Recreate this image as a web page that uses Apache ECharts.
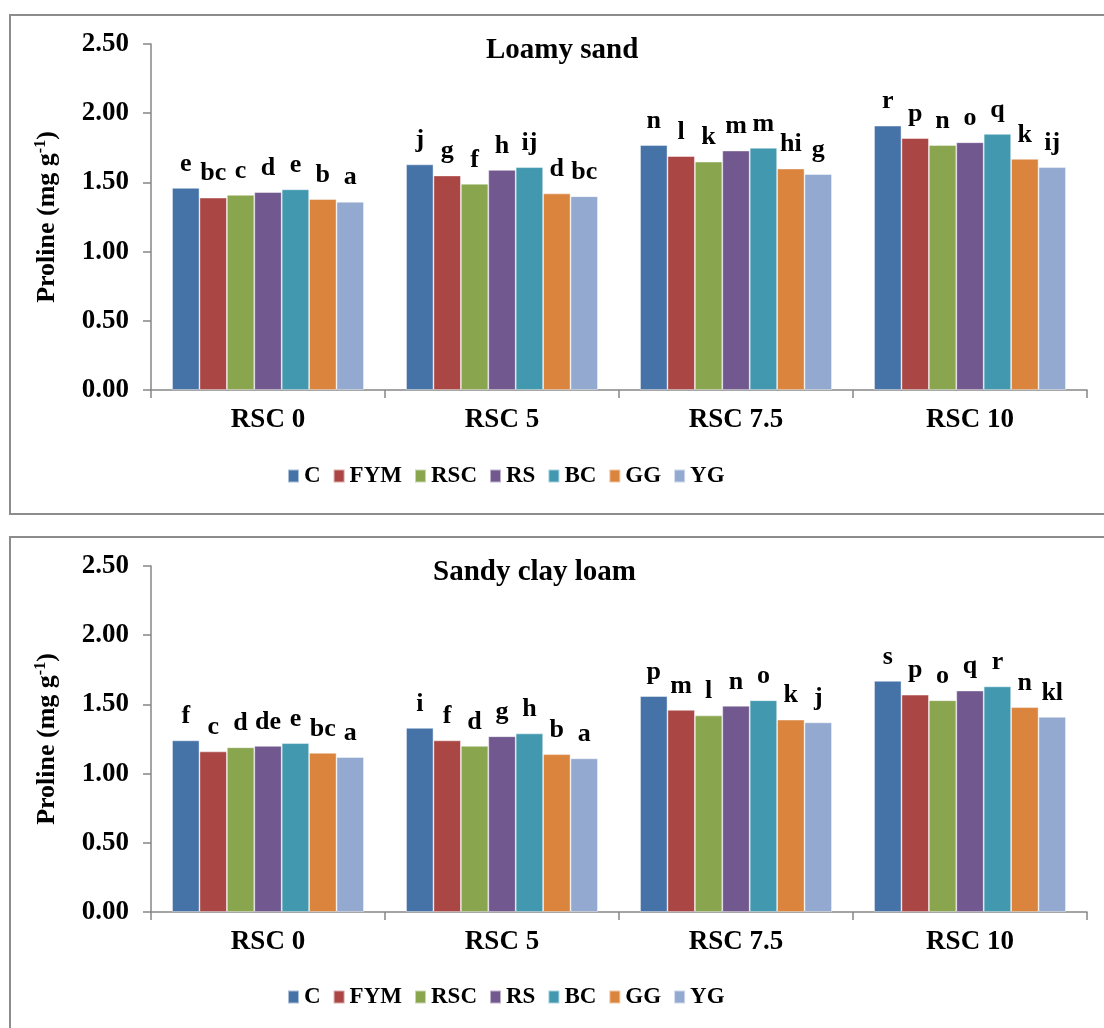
<!DOCTYPE html>
<html>
<head>
<meta charset="utf-8">
<script src="https://cdn.jsdelivr.net/npm/echarts@6/dist/echarts.min.js"></script>
<style>
  html, body { margin: 0; padding: 0; background: #fff; }
  #chart { width: 1104px; height: 1028px; }
</style>
</head>
<body>
<div id="chart"></div>
<script>
// ---------- DATA ----------
const categories = ['RSC 0', 'RSC 5', 'RSC 7.5', 'RSC 10'];
const treatments = ['C', 'FYM', 'RSC', 'RS', 'BC', 'GG', 'YG'];
const yTicks = [0, 0.5, 1.0, 1.5, 2.0, 2.5];

// Loamy sand (top panel)
const loamyC   = [1.46, 1.63, 1.77, 1.91];
const loamyFYM = [1.39, 1.55, 1.69, 1.82];
const loamyRSC = [1.41, 1.49, 1.65, 1.77];
const loamyRS  = [1.43, 1.59, 1.73, 1.79];
const loamyBC  = [1.45, 1.61, 1.75, 1.85];
const loamyGG  = [1.38, 1.42, 1.60, 1.67];
const loamyYG  = [1.36, 1.40, 1.56, 1.61];

const loamyLetC   = ['e', 'j', 'n', 'r'];
const loamyLetFYM = ['bc', 'g', 'l', 'p'];
const loamyLetRSC = ['c', 'f', 'k', 'n'];
const loamyLetRS  = ['d', 'h', 'm', 'o'];
const loamyLetBC  = ['e', 'ij', 'm', 'q'];
const loamyLetGG  = ['b', 'd', 'hi', 'k'];
const loamyLetYG  = ['a', 'bc', 'g', 'ij'];

// Sandy clay loam (bottom panel)
const sandyC   = [1.24, 1.33, 1.56, 1.67];
const sandyFYM = [1.16, 1.24, 1.46, 1.57];
const sandyRSC = [1.19, 1.20, 1.42, 1.53];
const sandyRS  = [1.20, 1.27, 1.49, 1.60];
const sandyBC  = [1.22, 1.29, 1.53, 1.63];
const sandyGG  = [1.15, 1.14, 1.39, 1.48];
const sandyYG  = [1.12, 1.11, 1.37, 1.41];

const sandyLetC   = ['f', 'i', 'p', 's'];
const sandyLetFYM = ['c', 'f', 'm', 'p'];
const sandyLetRSC = ['d', 'd', 'l', 'o'];
const sandyLetRS  = ['de', 'g', 'n', 'q'];
const sandyLetBC  = ['e', 'h', 'o', 'r'];
const sandyLetGG  = ['bc', 'b', 'k', 'n'];
const sandyLetYG  = ['a', 'a', 'j', 'kl'];

// ---------- STYLE ----------
const colors = ['#4572A7', '#AA4643', '#89A54E', '#71588F', '#4198AF', '#DB843D', '#93A9CF'];
const FONT = '"Liberation Serif", "Times New Roman", serif';
const AXIS_COLOR = '#868686';

const loamyVals = [loamyC, loamyFYM, loamyRSC, loamyRS, loamyBC, loamyGG, loamyYG];
const loamyLets = [loamyLetC, loamyLetFYM, loamyLetRSC, loamyLetRS, loamyLetBC, loamyLetGG, loamyLetYG];
const sandyVals = [sandyC, sandyFYM, sandyRSC, sandyRS, sandyBC, sandyGG, sandyYG];
const sandyLets = [sandyLetC, sandyLetFYM, sandyLetRSC, sandyLetRS, sandyLetBC, sandyLetGG, sandyLetYG];

function xAxisFor(gi) {
  return {
    type: 'category', gridIndex: gi, data: categories,
    axisLine: { lineStyle: { color: AXIS_COLOR, width: 1.5 } },
    axisTick: { show: true, length: 8, lineStyle: { color: AXIS_COLOR, width: 1.5 } },
    axisLabel: { color: '#000', fontFamily: FONT, fontWeight: 'bold', fontSize: 27, lineHeight: 27, margin: 17 }
  };
}
function yAxisFor(gi) {
  return {
    type: 'value', gridIndex: gi, min: yTicks[0], max: yTicks[yTicks.length - 1], interval: 0.5,
    splitLine: { show: false },
    axisLine: { show: true, lineStyle: { color: AXIS_COLOR, width: 1.5 } },
    axisTick: { show: true, length: 8, lineStyle: { color: AXIS_COLOR, width: 1.5 } },
    axisLabel: { color: '#000', fontFamily: FONT, fontWeight: 'bold', fontSize: 27, margin: 22,
                 formatter: v => v.toFixed(2) },
    name: '{a|Proline (mg g}{s|-1}{a|)}',
    nameLocation: 'middle', nameGap: 90,
    nameTextStyle: {
      rich: {
        a: { fontFamily: FONT, fontWeight: 'bold', fontSize: 26, color: '#000', lineHeight: 28 },
        s: { fontFamily: FONT, fontWeight: 'bold', fontSize: 16, color: '#000', verticalAlign: 'top', lineHeight: 16 }
      }
    }
  };
}

function makeSeries(vals, lets, gi) {
  return treatments.map((name, i) => ({
    name: name, type: 'bar', xAxisIndex: gi, yAxisIndex: gi,
    data: vals[i],
    barGap: '0%', barCategoryGap: '18%',
    itemStyle: { color: colors[i], borderColor: 'rgba(255,255,255,0.55)', borderWidth: 0.8 },
    label: {
      show: true, position: 'top', distance: 11,
      color: '#000', fontFamily: FONT, fontWeight: 'bold', fontSize: 26, lineHeight: 26,
      formatter: p => lets[i][p.dataIndex]
    }
  }));
}

function legendFor(top) {
  return {
    left: 287, top: top, itemWidth: 11, itemHeight: 13, itemGap: 12, padding: 0,
    icon: 'rect', data: treatments,
    textStyle: { fontFamily: FONT, fontWeight: 'bold', fontSize: 23, lineHeight: 26, color: '#000' }
  };
}

const option = {
  animation: false,
  backgroundColor: '#fff',
  color: colors,
  title: [
    { text: 'Loamy sand', left: 486, top: 36, padding: 0,
      textStyle: { fontFamily: FONT, fontWeight: 'bold', fontSize: 29, lineHeight: 29, color: '#000' } },
    { text: 'Sandy clay loam', left: 433, top: 558, padding: 0,
      textStyle: { fontFamily: FONT, fontWeight: 'bold', fontSize: 29, lineHeight: 29, color: '#000' } }
  ],
  legend: [legendFor(463), legendFor(984)],
  grid: [
    { left: 151, top: 44, width: 936, height: 346 },
    { left: 151, top: 566, width: 936, height: 346 }
  ],
  xAxis: [xAxisFor(0), xAxisFor(1)],
  yAxis: [yAxisFor(0), yAxisFor(1)],
  series: makeSeries(loamyVals, loamyLets, 0).concat(makeSeries(sandyVals, sandyLets, 1)),
  graphic: [
    { type: 'rect', shape: { x: 10, y: 15, width: 1110, height: 499 },
      style: { fill: 'none', stroke: '#8c8c8c', lineWidth: 2 }, z: 0 },
    { type: 'rect', shape: { x: 10, y: 537, width: 1110, height: 600 },
      style: { fill: 'none', stroke: '#8c8c8c', lineWidth: 2 }, z: 0 }
  ]
};

const chart = echarts.init(document.getElementById('chart'), null, { renderer: 'canvas' });
chart.setOption(option);
</script>
</body>
</html>
